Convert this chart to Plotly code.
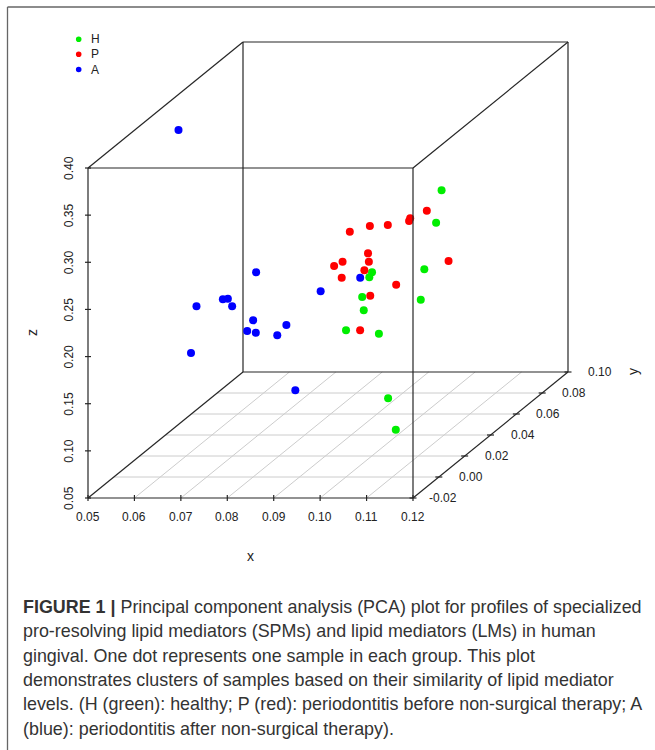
import plotly.graph_objects as go

# ---------------- data (PCA scores) ----------------
h_x = [0.1039, 0.1055, 0.0917, 0.0939, 0.0974, 0.0868, 0.1022, 0.0927, 0.0861, 0.0904, 0.0896, 0.0996]
h_y = [0.06, 0.05, 0.05, 0.04, 0.07, 0.06, 0.05, 0.04, 0.05, 0.06, 0.07, 0.04]
h_z = [0.2873, 0.2640, 0.2114, 0.2173, 0.1923, 0.1741, 0.1824, 0.1823, 0.1499, 0.1352, 0.0555, 0.0556]

p_x = [0.0897, 0.0968, 0.0951, 0.1027, 0.0969, 0.1035, 0.1054, 0.0964, 0.0937, 0.0891, 0.0938, 0.0984, 0.0963, 0.0969, 0.0941, 0.0947]
p_y = [0.04, 0.03, 0.05, 0.04, 0.06, 0.05, 0.06, 0.03, 0.02, 0.03, 0.04, 0.02, 0.01, 0.05, 0.04, 0.03]
p_z = [0.2656, 0.2828, 0.2616, 0.2798, 0.2547, 0.2768, 0.2123, 0.2538, 0.2561, 0.2404, 0.2338, 0.2470, 0.2502, 0.1983, 0.1977, 0.1722]

a_x = [0.0528, 0.0678, 0.0707, 0.0690, 0.0727, 0.0723, 0.0800, 0.0815, 0.0778, 0.0852, 0.0816, 0.0862, 0.0724, 0.0975, 0.0694]
a_y = [0.04, 0.00, 0.01, 0.02, 0.01, 0.03, 0.00, -0.01, 0.01, 0.00, 0.02, 0.03, 0.06, 0.02, -0.01]
a_z = [0.3735, 0.2310, 0.2273, 0.2168, 0.2199, 0.2337, 0.2162, 0.2160, 0.1919, 0.2003, 0.1889, 0.2135, 0.0751, 0.2391, 0.1927]

group_names = ["H", "P", "A"]
group_colors = ["#00ee00", "#ff0000", "#0000ff"]

x_ticks = [0.05, 0.06, 0.07, 0.08, 0.09, 0.10, 0.11, 0.12]
y_ticks = [-0.02, 0.00, 0.02, 0.04, 0.06, 0.08, 0.10]
z_ticks = [0.05, 0.10, 0.15, 0.20, 0.25, 0.30, 0.35, 0.40]
x_tick_labels = ["0.05", "0.06", "0.07", "0.08", "0.09", "0.10", "0.11", "0.12"]
y_tick_labels = ["-0.02", "0.00", "0.02", "0.04", "0.06", "0.08", "0.10"]
z_tick_labels = ["0.05", "0.10", "0.15", "0.20", "0.25", "0.30", "0.35", "0.40"]

caption_lines = [
    "<b>FIGURE 1 |</b> Principal component analysis (PCA) plot for profiles of specialized",
    "pro-resolving lipid mediators (SPMs) and lipid mediators (LMs) in human",
    "gingival. One dot represents one sample in each group. This plot",
    "demonstrates clusters of samples based on their similarity of lipid mediator",
    "levels. (H (green): healthy; P (red): periodontitis before non-surgical therapy; A",
    "(blue): periodontitis after non-surgical therapy).",
]

# ---------------- geometry (scatterplot3d-like oblique projection) ----------------
W, H = 655, 750
XLIM = (x_ticks[0], x_ticks[-1])
YLIM = (y_ticks[0], y_ticks[-1])
ZLIM = (z_ticks[0], z_ticks[-1])
FX0, FX1 = 88, 413      # front face px (left/right)
FZ0, FZ1 = 498, 168     # front face px (bottom/top)
DEP_DX, DEP_DY = 155, 126  # depth offset in px for full y range

ux = (XLIM[1] - XLIM[0]) / (FX1 - FX0)   # x units per px
uz = (ZLIM[1] - ZLIM[0]) / (FZ0 - FZ1)   # z units per px
KX = DEP_DX * ux / (YLIM[1] - YLIM[0])
KZ = DEP_DY * uz / (YLIM[1] - YLIM[0])

x_range = [XLIM[0] - FX0 * ux, XLIM[0] + (W - FX0) * ux]
z_range = [ZLIM[0] - (H - FZ0) * uz, ZLIM[0] + FZ0 * uz]


def proj(x, y, z):
    return x + (y - YLIM[0]) * KX, z + (y - YLIM[0]) * KZ


def seg_trace(segs, color, width):
    xs, ys = [], []
    for p, q in segs:
        a, b = proj(*p), proj(*q)
        xs += [a[0], b[0], None]
        ys += [a[1], b[1], None]
    return go.Scatter(x=xs, y=ys, mode="lines", line=dict(color=color, width=width),
                      hoverinfo="skip", showlegend=False)


x0, x1 = XLIM
y0, y1 = YLIM
z0, z1 = ZLIM

fig = go.Figure()

# floor grid
grid = []
for yv in y_ticks[1:-1]:
    grid.append(((x0, yv, z0), (x1, yv, z0)))
for xv in x_ticks[1:-1]:
    grid.append(((xv, y0, z0), (xv, y1, z0)))
fig.add_trace(seg_trace(grid, "#cccccc", 1))

BOX = "#262626"
back = [
    ((x0, y1, z0), (x0, y1, z1)),
    ((x1, y1, z0), (x1, y1, z1)),
    ((x0, y1, z1), (x1, y1, z1)),
    ((x0, y1, z0), (x1, y1, z0)),
    ((x0, y0, z0), (x0, y1, z0)),
    ((x1, y0, z0), (x1, y1, z0)),
    ((x0, y0, z1), (x0, y1, z1)),
    ((x1, y0, z1), (x1, y1, z1)),
]
fig.add_trace(seg_trace(back, BOX, 1.2))

# points
for name, col, xs, ys, zs in zip(group_names, group_colors,
                                 [h_x, p_x, a_x], [h_y, p_y, a_y], [h_z, p_z, a_z]):
    px, pz = zip(*[proj(a, b, c) for a, b, c in zip(xs, ys, zs)])
    fig.add_trace(go.Scatter(x=list(px), y=list(pz), mode="markers", name=name,
                             marker=dict(size=8, color=col, line=dict(width=0)),
                             showlegend=False))

# front face + ticks
front = [
    ((x0, y0, z0), (x1, y0, z0)),
    ((x0, y0, z1), (x1, y0, z1)),
    ((x0, y0, z0), (x0, y0, z1)),
    ((x1, y0, z0), (x1, y0, z1)),
]
tk = []
for xv in x_ticks:
    tk.append(((xv, y0, z0 - 3 * uz), (xv, y0, z0 + 3 * uz)))
for zv in z_ticks:
    tk.append(((x0 - 3 * ux, y0, zv), (x0 + 3 * ux, y0, zv)))
for yv in y_ticks:
    tk.append(((x1 - 3.5 * ux, yv, z0), (x1 + 3.5 * ux, yv, z0)))
fig.add_trace(seg_trace(front + tk, BOX, 1.2))

ann = []
TF = dict(family="Liberation Sans, Arial, sans-serif", size=12, color="#222222")
for xv, lab in zip(x_ticks, x_tick_labels):
    ann.append(dict(x=xv, y=z0, text=lab, showarrow=False, yshift=-19, font=TF,
                    xanchor="center", yanchor="middle"))
for zv, lab in zip(z_ticks, z_tick_labels):
    ann.append(dict(x=x0, y=zv, text=lab, showarrow=False, xshift=-19, textangle=-90,
                    font=TF, xanchor="center", yanchor="middle"))
for yv, lab in zip(y_ticks, y_tick_labels):
    px, pz = proj(x1, yv, z0)
    ann.append(dict(x=px, y=pz, text=lab, showarrow=False, xshift=46, font=TF,
                    xanchor="right", yanchor="middle"))

LF = dict(family="Liberation Sans, Arial, sans-serif", size=14, color="#222222")
ann.append(dict(x=(x0 + x1) / 2, y=z0, text="x", showarrow=False, yshift=-58, font=LF))
ann.append(dict(x=x0, y=(z0 + z1) / 2, text="z", showarrow=False, xshift=-56,
                textangle=-90, font=LF))
pxy, pzy = proj(x1, y1, z0)
ann.append(dict(x=pxy, y=pzy, text="y", showarrow=False, xshift=65, textangle=-90, font=LF))

# legend (top-left)
shapes = []
leg_y = [39.3, 54.3, 69.5]
for name, col, ly in zip(group_names, group_colors, leg_y):
    r = 2.8
    shapes.append(dict(type="circle", xref="paper", yref="paper",
                       x0=(78.7 - r) / W, x1=(78.7 + r) / W,
                       y0=1 - (ly + r) / H, y1=1 - (ly - r) / H,
                       fillcolor=col, line=dict(width=0)))
    ann.append(dict(xref="paper", yref="paper", x=89 / W, y=1 - ly / H, text=name,
                    showarrow=False, xanchor="left", yanchor="middle",
                    font=dict(family="Liberation Sans, Arial, sans-serif", size=12, color="#222222")))

# outer frame
shapes.append(dict(type="line", xref="paper", yref="paper", x0=7.5 / W, x1=1.0,
                   y0=1 - 7 / H, y1=1 - 7 / H, line=dict(color="#666666", width=1.3)))
shapes.append(dict(type="line", xref="paper", yref="paper", x0=7.5 / W, x1=7.5 / W,
                   y0=1 - 7 / H, y1=0, line=dict(color="#666666", width=1.3)))

# caption
CF = dict(family="Liberation Sans, Arial, sans-serif", size=17.9, color="#333333")
cap_y = [607, 631.3, 655.6, 679.9, 704.2, 728.5]
for txt, cy in zip(caption_lines, cap_y):
    ann.append(dict(xref="paper", yref="paper", x=21 / W, y=1 - cy / H, text=txt,
                    showarrow=False, xanchor="left", yanchor="middle", font=CF))

fig.update_layout(
    width=W, height=H, margin=dict(l=0, r=0, t=0, b=0),
    paper_bgcolor="white", plot_bgcolor="white",
    xaxis=dict(range=x_range, visible=False, fixedrange=True),
    yaxis=dict(range=z_range, visible=False, fixedrange=True),
    showlegend=False, annotations=ann, shapes=shapes,
)

fig.write_html("out.html", config={"displayModeBar": False},
               post_script="document.body.style.margin='0';document.body.style.overflow='hidden';")
